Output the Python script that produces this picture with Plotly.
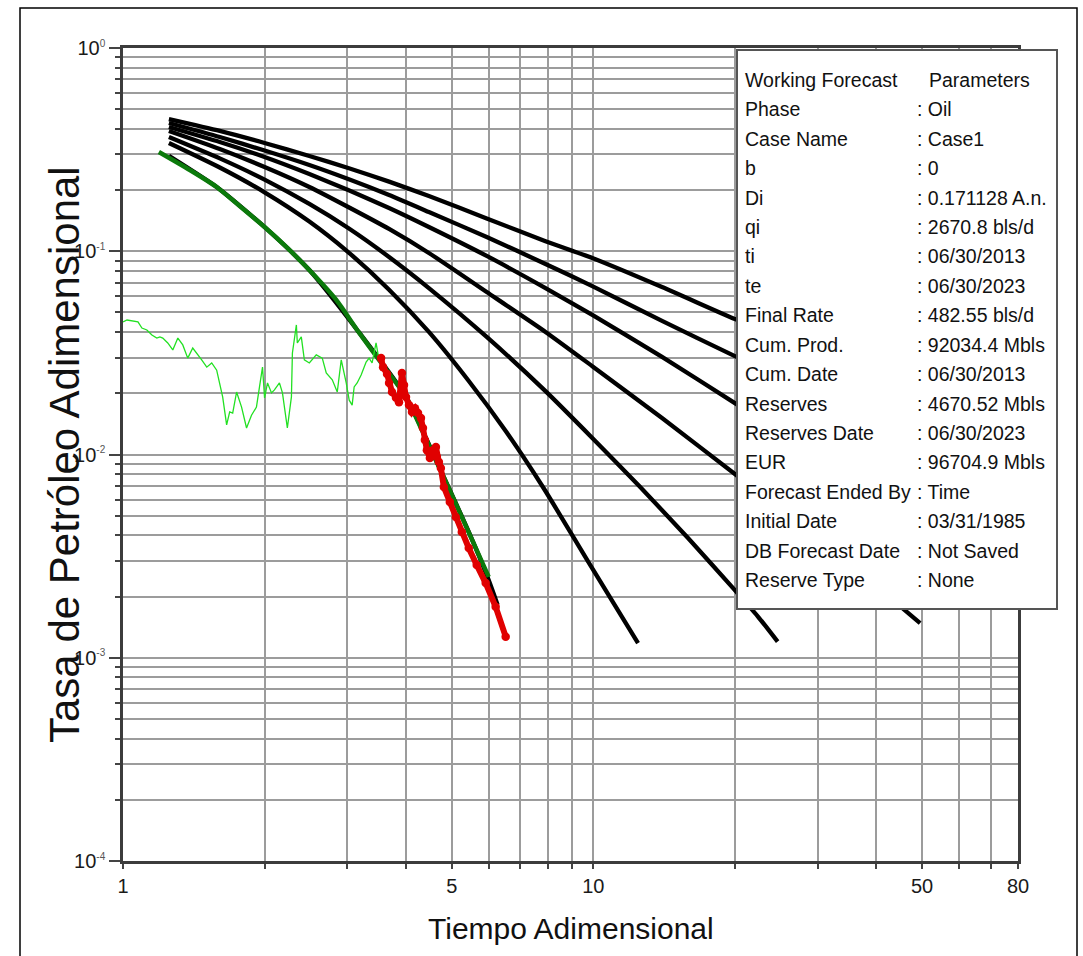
import plotly.graph_objects as go

# ---------------- data ----------------
# type curves (black)
A_t = [1.252, 1.606, 2.000, 2.490, 3.012, 3.679, 4.471, 5.934, 7.914, 9.951, 14.00, 20.00, 20.8]
A_q = [0.447, 0.391, 0.341, 0.294, 0.257, 0.220, 0.187, 0.145, 0.112, 0.0927, 0.0667, 0.0464, 0.0449]
B_t = A_t
B_q = [0.4275, 0.3648, 0.3131, 0.2657, 0.2267, 0.1891, 0.1560, 0.1175, 0.0866, 0.0674, 0.0454, 0.0305, 0.0292]
C_t = A_t
C_q = [0.4086, 0.3447, 0.2908, 0.2399, 0.2002, 0.1632, 0.1316, 0.0948, 0.0659, 0.0486, 0.0302, 0.0179, 0.0169]
D_t = [1.252, 1.606, 2.0, 2.49, 3.012, 3.679, 4.471, 5.934, 7.914, 9.951, 14.0, 20.0, 27.19, 36.42, 49.54]
D_q = [0.3905, 0.3185, 0.2597, 0.2071, 0.1651, 0.1287, 0.0980, 0.0630, 0.0401, 0.0272, 0.01512, 0.00802,
       0.00466, 0.00270, 0.00148]
E_t = [1.252, 1.606, 2.0, 2.49, 3.012, 3.679, 4.471, 5.934, 7.914, 9.951, 12.58, 15.90, 20.0, 22.37, 24.66]
E_q = [0.3648, 0.2863, 0.2252, 0.1709, 0.1301, 0.0937, 0.0659, 0.0379, 0.0205, 0.01206, 0.00692, 0.00388,
       0.00215, 0.00160, 0.00120]
F_t = [1.252, 1.606, 2.0, 2.49, 3.012, 3.679, 4.471, 5.435, 6.512, 7.838, 9.759, 12.45]
F_q = [0.3408, 0.2582, 0.1950, 0.1401, 0.0991, 0.0647, 0.0401, 0.0230, 0.01305, 0.00684, 0.00296, 0.00118]
G_t = [1.252, 1.582, 2.0, 2.49, 3.147, 3.997, 4.764, 5.435, 5.992, 6.26]
G_q = [0.2950, 0.2071, 0.1316, 0.0808, 0.0410, 0.0192, 0.00811, 0.00416, 0.00241, 0.00182]

# working forecast (dark green)
WF_t = [1.192, 1.387, 1.582, 1.770, 2.000, 2.236, 2.490, 2.841, 3.147, 3.503, 3.997, 4.321, 4.764, 5.253, 5.992]
WF_q = [0.3078, 0.2511, 0.2071, 0.1670, 0.1316, 0.1038, 0.0808, 0.0576, 0.0410, 0.0292, 0.0192, 0.0132,
        0.00811, 0.00493, 0.00250]

# production history (light green)
H_t = [1.000, 1.020, 1.076, 1.097, 1.124, 1.152, 1.180, 1.198, 1.215, 1.245, 1.276, 1.308, 1.340, 1.373,
       1.407, 1.435, 1.470, 1.507, 1.544, 1.582, 1.606, 1.629, 1.661, 1.686, 1.711, 1.744, 1.787, 1.831,
       1.876, 1.922, 1.951, 1.980, 2.000, 2.029, 2.069, 2.099, 2.151, 2.183, 2.236, 2.281, 2.292, 2.337,
       2.348, 2.394, 2.430, 2.490, 2.576, 2.653, 2.705, 2.786, 2.855, 2.911, 2.983, 3.027, 3.071, 3.101,
       3.147, 3.209, 3.288, 3.337, 3.386, 3.452, 3.503, 3.555]
H_q = [0.0449, 0.0459, 0.0449, 0.0419, 0.0410, 0.0387, 0.0374, 0.0379, 0.0374, 0.0354, 0.0327, 0.0374,
       0.0346, 0.0298, 0.0334, 0.0316, 0.0292, 0.0269, 0.0282, 0.0260, 0.0225, 0.0192, 0.0140, 0.0162,
       0.0160, 0.0203, 0.0171, 0.0135, 0.0156, 0.0171, 0.0215, 0.0269, 0.0190, 0.0225, 0.0201, 0.0208,
       0.0225, 0.0201, 0.0135, 0.0192, 0.0316, 0.0434, 0.0354, 0.0379, 0.0292, 0.0282, 0.0309, 0.0298,
       0.0252, 0.0233, 0.0203, 0.0292, 0.0225, 0.0185, 0.0175, 0.0215, 0.0225, 0.0246, 0.0285, 0.0298,
       0.0282, 0.0354, 0.0292, 0.0309]

# matched data (red)
R_t = [3.538, 3.573, 3.643, 3.679, 3.733, 3.806, 3.862, 3.919, 3.958, 3.997, 4.057, 4.117, 4.178, 4.239,
       4.301, 4.343, 4.385, 4.428, 4.493, 4.560, 4.627, 4.650, 4.695, 4.741, 4.811, 4.954, 5.101, 5.253,
       5.435, 5.651, 5.905, 6.200, 6.512]
R_q = [0.0298, 0.0269, 0.0249, 0.0225, 0.0203, 0.0190, 0.0181, 0.0252, 0.0220, 0.0192, 0.0175, 0.0162,
       0.0169, 0.0160, 0.0151, 0.0135, 0.0118, 0.0105, 0.00961, 0.0105, 0.0109, 0.00972, 0.00919, 0.00858,
       0.00692, 0.00584, 0.00493, 0.00416, 0.00347, 0.00286, 0.00233, 0.00178, 0.00127]

# axis ticks
x_major = [1, 5, 10, 50, 80]
x_major_text = ["1", "5", "10", "50", "80"]
x_minor = [2, 3, 4, 6, 7, 8, 9, 20, 30, 40, 60, 70]
y_exponents = [-4, -3, -2, -1, 0]
y_minor = [k * 10.0 ** e for e in (-4, -3, -2, -1) for k in range(2, 10)]

# info box
box_labels = ["Working Forecast", "Phase", "Case Name", "b", "Di", "qi", "ti", "te", "Final Rate",
              "Cum. Prod.", "Cum. Date", "Reserves", "Reserves Date", "EUR", "Forecast Ended By",
              "Initial Date", "DB Forecast Date", "Reserve Type"]
box_values = ["Parameters", "Oil", "Case1", "0", "0.171128 A.n.", "2670.8 bls/d", "06/30/2013",
              "06/30/2023", "482.55 bls/d", "92034.4 Mbls", "06/30/2013", "4670.52 Mbls", "06/30/2023",
              "96704.9 Mbls", "Time", "03/31/1985", "Not Saved", "None"]

# ---------------- layout geometry ----------------
W, H = 1083, 956
L, R, T, B = 123, 1018, 48, 861
FONT = "Liberation Sans, Arial, sans-serif"


def pxx(px):
    return (px - L) / (R - L)


def pxy(py):
    return (B - py) / (B - T)


fig = go.Figure()

for tx, qy in [(A_t, A_q), (B_t, B_q), (C_t, C_q), (D_t, D_q), (E_t, E_q), (F_t, F_q), (G_t, G_q)]:
    fig.add_trace(go.Scatter(x=tx, y=qy, mode="lines",
                             line=dict(color="#000000", width=4.3, shape="spline", smoothing=0.6),
                             showlegend=False, hoverinfo="skip"))

fig.add_trace(go.Scatter(x=WF_t, y=WF_q, mode="lines",
                         line=dict(color="#0b7a0b", width=4.5, shape="spline", smoothing=0.6),
                         showlegend=False, hoverinfo="skip"))
fig.add_trace(go.Scatter(x=H_t, y=H_q, mode="lines", line=dict(color="#22e022", width=1.3),
                         showlegend=False, hoverinfo="skip"))
fig.add_trace(go.Scatter(x=R_t, y=R_q, mode="lines+markers", line=dict(color="#e00000", width=6),
                         marker=dict(color="#e00000", size=8.5), showlegend=False, hoverinfo="skip"))

grid = "#9c9c9c"
axis_font = dict(family=FONT, size=20, color="#1a1a1a")

fig.update_xaxes(type="log", range=[0, 1.90309], tickmode="array", tickvals=x_major,
                 ticktext=x_major_text, ticks="outside", ticklen=5, tickwidth=1.5, tickcolor="#444",
                 showgrid=True, gridcolor=grid, gridwidth=1.6,
                 minor=dict(tickmode="array", tickvals=x_minor, ticks="outside", ticklen=5,
                            tickcolor="#444", tickwidth=1.5, showgrid=True, gridcolor=grid, gridwidth=1.6),
                 showline=True, linecolor="#3c3c3c", linewidth=2.5, mirror=True,
                 tickfont=axis_font, zeroline=False)

y_text = ["10<sup><span style='font-size:10px;color:#555'>%d</span></sup>" % e for e in y_exponents]
fig.update_yaxes(type="log", range=[-4, 0], tickmode="array", tickvals=[10.0 ** e for e in y_exponents],
                 ticktext=y_text, ticks="outside", ticklen=11, tickwidth=1.5, tickcolor="#444",
                 showgrid=True, gridcolor=grid, gridwidth=1.6,
                 minor=dict(tickmode="array", tickvals=y_minor, ticks="outside", ticklen=5,
                            tickcolor="#444", tickwidth=1.5, showgrid=True, gridcolor=grid, gridwidth=1.6),
                 showline=True, linecolor="#3c3c3c", linewidth=2.5, mirror=True,
                 tickfont=axis_font, zeroline=False)

shapes = [
    # outer frame of the picture
    dict(type="rect", xref="paper", yref="paper", x0=pxx(20), x1=pxx(1077), y0=pxy(975), y1=pxy(8),
         line=dict(color="#000", width=1.5), fillcolor="rgba(0,0,0,0)", layer="above"),
    # info box
    dict(type="rect", xref="paper", yref="paper", x0=pxx(737), x1=pxx(1057), y0=pxy(609), y1=pxy(50),
         line=dict(color="#555", width=2), fillcolor="#ffffff", layer="above"),
]

annotations = []
row0, step = 80.0, 29.41
for i, (lab, val) in enumerate(zip(box_labels, box_values)):
    yy = pxy(row0 + i * step)
    annotations.append(dict(xref="paper", yref="paper", x=pxx(743), y=yy, xanchor="left", yanchor="middle",
                            text=lab, showarrow=False, font=dict(family=FONT, size=19.5, color="#111")))
    vtxt = val if i == 0 else ": " + val
    vx = 927 if i == 0 else 915
    annotations.append(dict(xref="paper", yref="paper", x=pxx(vx), y=yy, xanchor="left", yanchor="middle",
                            text=vtxt, showarrow=False, font=dict(family=FONT, size=19.5, color="#111")))

annotations.append(dict(xref="paper", yref="paper", x=pxx(570.5), y=pxy(928), xanchor="center",
                        yanchor="middle", text="Tiempo Adimensional", showarrow=False,
                        font=dict(family=FONT, size=30, color="#111")))
annotations.append(dict(xref="paper", yref="paper", x=pxx(64), y=pxy(455), xanchor="center",
                        yanchor="middle", text="Tasa de Petróleo Adimensional", textangle=-90,
                        showarrow=False, font=dict(family=FONT, size=42, color="#111")))

fig.update_layout(width=W, height=H, margin=dict(l=L, r=W - R, t=T, b=H - B, autoexpand=False),
                  paper_bgcolor="white", plot_bgcolor="white", showlegend=False,
                  shapes=shapes, annotations=annotations, font=dict(family=FONT))

fig.write_html("out.html")
